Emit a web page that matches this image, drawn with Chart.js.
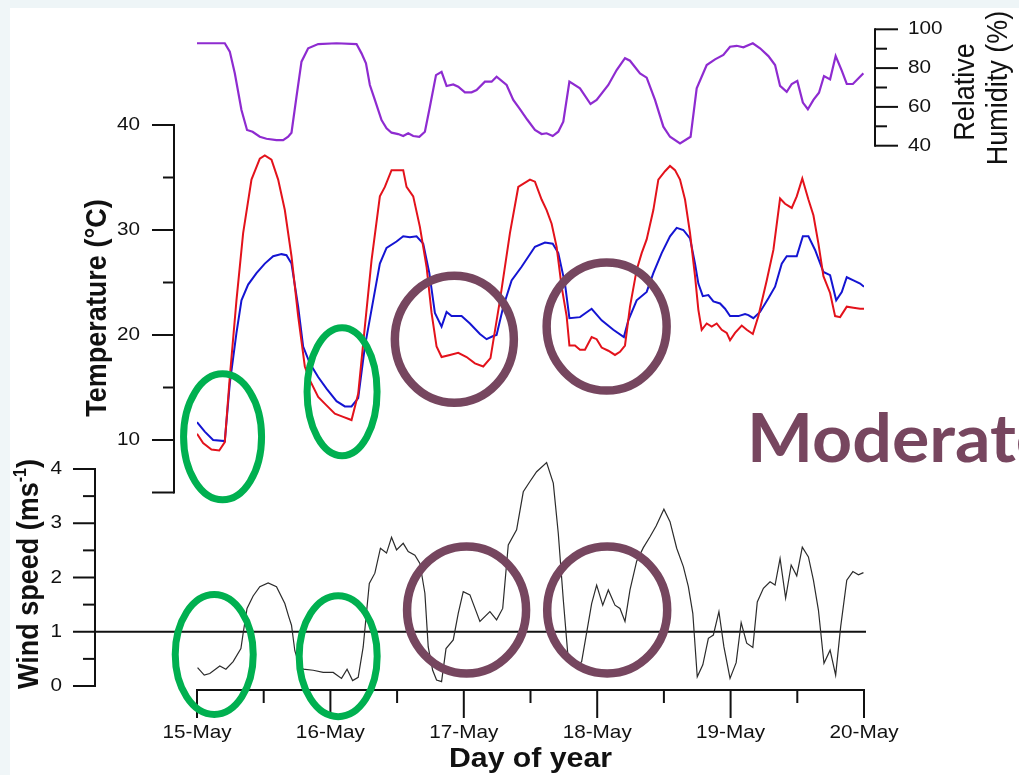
<!DOCTYPE html>
<html><head><meta charset="utf-8">
<script src="https://cdn.jsdelivr.net/npm/chart.js@4.4.1/dist/chart.umd.min.js"></script>
<style>
html,body{margin:0;padding:0;background:#fff;}
#wrap{position:relative;width:1019px;height:775px;overflow:hidden;background:#fff;}
.strip-top{position:absolute;left:0;top:0;width:1019px;height:8px;background:#eef5f7;}
.strip-left{position:absolute;left:0;top:0;width:10px;height:775px;background:#f0f6f8;}
canvas{position:absolute;left:0;top:0;}
</style></head><body>
<div id="wrap"><div class="strip-top"></div><div class="strip-left"></div><canvas id="c" width="1019" height="775"></canvas></div>
<script>
// ---------------- DATA ----------------
const dayLabels = ['15-May','16-May','17-May','18-May','19-May','20-May'];
const dayTicks = [0, 24, 48, 72, 96, 120];          // hours since 15-May 00:00
const halfDayTicks = [12, 36, 60, 84, 108];

const tempTicks = [10, 20, 30, 40];
const tempMinorTicks = [15, 25, 35];
const windTicks = [0, 1, 2, 3, 4];
const windMinorTicks = [0.5, 1.5, 2.5, 3.5];
const humTicks = [40, 60, 80, 100];
const humMinorTicks = [50, 70, 90];
const windThreshold = 1;

// red temperature trace
const redHours = [0,1.1,2.6,4.0,5.0,5.9,7.1,8.3,9.8,11.3,12.2,13.4,14.6,15.8,17.0,18.2,19.4,20.3,21.8,23.3,24.8,26.3,27.8,29.0,30.2,31.4,32.9,33.8,35.0,37.1,37.7,38.9,40.1,41.3,42.2,43.1,44.0,45.5,47.0,48.5,50.0,51.5,52.8,54.5,56.3,57.8,59.9,60.8,62.0,62.9,63.8,64.7,65.6,66.5,67.0,68.0,68.9,69.8,71.0,71.9,72.8,74.0,75.2,76.1,77.0,77.9,79.1,80.0,80.9,82.1,83.0,84.2,85.1,86.0,86.9,87.8,88.7,89.6,90.2,90.8,91.7,92.6,93.5,94.4,95.3,95.9,96.8,98.0,98.9,100.0,101.0,102.5,103.7,104.9,105.8,107.0,107.9,108.9,110.0,110.9,111.8,112.7,113.9,114.8,115.7,116.9,118.1,119.3,120];
const redTemp = [10.6,9.7,9.1,9.0,9.8,16.0,23.3,29.7,34.8,36.8,37.1,36.7,34.8,31.9,27.5,21.8,17.0,15.7,14.1,13.3,12.5,12.2,11.9,14.4,20.8,27.1,33.2,34.1,35.7,35.7,34.1,33.2,30.3,26.5,22.1,18.9,17.9,18.1,18.3,17.9,17.3,17.0,17.8,23.3,29.7,34.1,34.8,34.6,32.9,31.9,30.6,28.4,24.6,21.8,19.0,19.0,18.6,18.6,19.8,19.6,18.8,18.5,18.1,18.4,19.0,22.7,26.2,27.8,29.1,31.9,34.8,35.6,36.1,35.7,34.8,32.9,29.7,25.6,22.4,20.5,21.1,20.8,21.1,20.5,20.2,19.5,20.2,20.9,20.5,20.1,21.8,25.2,28.1,33.0,32.5,32.1,33.2,34.9,32.9,31.4,28.7,25.6,24.0,21.8,21.7,22.7,22.6,22.5,22.5];

// blue temperature trace
const blueHours = [0,1.4,2.9,5.0,5.9,7.1,8.0,9.2,10.7,12.2,13.7,15.2,16.1,17.0,18.2,19.1,20.3,21.8,23.3,25.1,26.6,27.8,29.0,30.2,31.7,32.9,34.1,35.9,37.1,38.3,39.5,40.7,41.8,42.8,44.0,44.9,45.8,47.6,49.1,50.9,52.1,53.3,53.9,55.1,56.6,58.4,60.8,62.6,64.0,65.0,66.2,67.0,68.9,71.0,72.8,74.9,76.8,77.6,79.1,80.9,82.1,83.6,85.1,86.3,87.5,88.7,89.6,90.2,91.0,92.0,92.9,94.1,95.0,95.9,97.4,98.6,99.2,100.1,101.3,102.8,104.0,105.2,106.1,107.9,109.0,110.0,111.2,112.7,113.9,115.0,116.0,116.9,118.1,119.3,120];
const blueTemp = [11.7,10.8,10.0,9.9,15.4,20.2,23.3,24.8,25.9,26.8,27.5,27.7,27.6,26.8,22.7,18.9,17.3,16.0,14.9,13.7,13.2,13.2,14.0,18.9,23.3,26.8,28.3,28.9,29.4,29.3,29.4,28.7,25.9,22.1,20.8,22.2,21.8,21.8,21.1,20.1,19.6,19.9,20.0,22.7,25.2,26.5,28.4,28.8,28.7,27.8,24.9,21.6,21.7,22.5,21.4,20.5,19.8,21.4,23.3,24.1,25.9,27.8,29.4,30.2,30.0,29.2,26.8,24.9,23.7,23.8,23.2,23.0,22.5,21.8,21.8,22.0,21.9,21.6,22.2,23.5,24.6,26.8,27.5,27.5,29.4,29.4,28.1,26.0,25.7,23.3,24.1,25.5,25.2,24.9,24.6];

// relative humidity (%)
const humHours = [0,5.0,5.9,6.8,8.0,9.0,10.0,11.3,12.5,14.3,15.5,16.4,17.0,17.9,18.8,20.0,21.8,25.1,28.7,29.6,30.4,31.1,32.0,33.2,34.1,35.0,36.2,37.1,38.0,38.9,40.0,41.0,41.9,43.0,44.0,44.9,46.1,47.0,48.2,49.4,50.3,51.8,53.0,53.9,55.7,56.9,58.1,59.4,60.8,62.0,62.9,64.0,65.0,65.9,67.0,68.9,70.8,71.9,74.0,75.5,77.0,77.9,79.7,80.9,82.4,83.9,85.1,86.9,88.8,89.9,91.7,93.2,94.7,95.9,97.1,98.3,100.0,101.3,102.8,104.0,104.9,106.1,107.0,108.0,109.0,109.9,110.9,111.9,112.8,113.9,114.9,116.0,116.9,118.0,119.9];
const humidity = [92.8,92.8,88.5,77.3,58.4,48.1,47.2,44.6,43.6,42.9,42.9,44.6,46.7,65.3,83.3,90.2,92.4,92.8,92.4,87.6,82.5,71.3,63.6,53.2,49.0,46.7,46.0,45.0,46.4,45.0,44.6,47.2,60.1,76.4,78.1,70.8,71.6,70.4,67.5,67.5,68.7,73.0,73.0,75.6,71.3,63.6,58.9,53.5,48.1,46.0,46.4,45.0,47.2,52.4,73.0,69.6,61.5,63.6,71.3,79.0,85.1,83.8,77.3,75.1,63.6,49.8,44.6,41.2,44.6,69.6,81.6,84.5,86.8,91.0,91.5,90.7,92.8,90.2,86.2,81.6,70.8,67.8,71.8,73.4,62.2,58.8,63.6,67.3,75.9,74.2,86.2,78.7,71.8,71.8,77.3];

// wind speed (m/s)
const windHours = [0.1,1.3,2.3,4.1,5.2,6.5,7.9,8.3,9.0,10.1,11.3,12.8,14.3,15.8,16.5,17.0,17.6,18.2,19.1,20.9,22.7,24.5,26.0,27.0,28.0,29.0,29.9,31.0,32.0,33.0,34.1,35.0,35.9,37.1,38.0,39.2,40.1,41.0,41.6,42.4,43.1,44.0,44.8,46.1,47.0,47.9,49.1,50.9,52.7,53.9,55.0,56.0,57.5,58.7,59.9,61.1,62.9,64.1,65.0,65.9,66.8,68.3,69.2,71.0,71.9,73.0,74.0,75.2,76.1,77.0,77.9,79.1,80.3,81.5,82.6,84.0,85.1,86.3,87.5,88.4,89.2,90.0,91.0,92.0,92.9,93.9,94.8,95.9,97.0,97.9,98.9,100.0,100.8,101.9,103.1,104.0,104.9,105.9,106.9,107.9,108.9,110.0,110.9,111.8,112.8,113.9,114.9,115.8,116.9,118.0,119.0,119.9];
const windSpeed = [0.34,0.2,0.23,0.37,0.31,0.45,0.69,0.97,1.43,1.66,1.83,1.9,1.83,1.52,1.28,1.12,0.65,0.45,0.31,0.29,0.25,0.25,0.14,0.31,0.1,0.16,0.72,1.89,2.08,2.54,2.45,2.74,2.51,2.63,2.48,2.41,2.26,1.71,0.72,0.29,0.11,0.08,0.69,0.85,1.34,1.74,1.68,1.19,1.37,1.22,1.43,2.6,2.88,3.58,3.77,3.95,4.12,3.74,2.81,1.59,0.48,0.36,0.45,1.52,1.86,1.49,1.77,1.49,1.43,1.19,1.77,2.3,2.55,2.75,2.95,3.26,3.03,2.54,2.2,1.83,1.34,0.17,0.39,0.88,0.94,1.37,0.72,0.14,0.43,1.17,0.79,0.71,1.55,1.8,1.92,1.86,2.35,1.62,2.23,2.03,2.56,2.38,1.95,1.4,0.42,0.66,0.2,1.09,1.95,2.11,2.05,2.09];

// annotation marks (centre in data units, radii in px)
const annotations = [
  {x: 4.6,  axis: 'yT', y: 10.3, rx: 39, ry: 63, color: '#00b050', lw: 7},
  {x: 26.1, axis: 'yT', y: 14.6, rx: 35, ry: 64, color: '#00b050', lw: 7},
  {x: 3.1,  axis: 'yW', y: 0.58, rx: 39, ry: 60, color: '#00b050', lw: 7},
  {x: 25.4, axis: 'yW', y: 0.55, rx: 39, ry: 60.5, color: '#00b050', lw: 7},
  {x: 46.3, axis: 'yT', y: 19.6, rx: 59.5, ry: 63.5, color: '#76465f', lw: 8.5},
  {x: 73.7, axis: 'yT', y: 20.8, rx: 60, ry: 64, color: '#76465f', lw: 8.5},
  {x: 48.5, axis: 'yW', y: 1.40, rx: 59.5, ry: 63.5, color: '#76465f', lw: 8.5},
  {x: 73.8, axis: 'yW', y: 1.40, rx: 60, ry: 63.5, color: '#76465f', lw: 8.5}
];

// ---------------- LAYOUT ----------------
const LAY = {
  plotLeft: 197, plotRight: 864, top: 20, bottom: 700, W: 1019, H: 775,
  temp: {axisX: 174, v1: 40, p1: 125, v2: 10, p2: 440, from: 5, to: 40},
  wind: {axisX: 95, v1: 4, p1: 469, v2: 0, p2: 686, from: 0, to: 4},
  hum:  {axisX: 875, v1: 100, p1: 29.3, v2: 40, p2: 145.7, from: 40, to: 100},
  xAxisY: 690
};
function fitRange(a) {
  const k = (a.p2 - a.p1) / (a.v1 - a.v2);
  return {min: a.v2 - (LAY.bottom - a.p2) / k, max: a.v1 + (a.p1 - LAY.top) / k};
}
const rT = fitRange(LAY.temp), rW = fitRange(LAY.wind), rH = fitRange(LAY.hum);
const SX = 1.12;
const FONT = '"Liberation Sans", Arial, sans-serif';

function pts(xs, ys) { return xs.map((x, i) => ({x: x, y: ys[i]})); }

function txt(ctx, s, x, y, o) {
  ctx.save();
  ctx.translate(x, y);
  ctx.scale(o.sx || SX, 1);
  if (o.rot) ctx.rotate(o.rot);
  ctx.font = o.font;
  ctx.fillStyle = o.color || '#111';
  ctx.textAlign = o.align || 'center';
  ctx.textBaseline = o.base || 'middle';
  ctx.fillText(s, 0, 0);
  ctx.restore();
}
// rotated title made of parts (supports superscript)
function rotTitle(ctx, parts, cx, cy, baseSize, weight) {
  ctx.save();
  ctx.translate(cx, cy);
  ctx.scale(SX, 1);
  ctx.rotate(-Math.PI / 2);
  ctx.fillStyle = '#111';
  ctx.textBaseline = 'middle';
  ctx.textAlign = 'left';
  let total = 0;
  parts.forEach(p => { ctx.font = weight + ' ' + (p.size || baseSize) + 'px ' + FONT; p.w = ctx.measureText(p.t).width; total += p.w; });
  let x = -total / 2;
  parts.forEach(p => {
    ctx.font = weight + ' ' + (p.size || baseSize) + 'px ' + FONT;
    ctx.fillText(p.t, x, -(p.raise || 0));
    x += p.w;
  });
  ctx.restore();
}

function line(ctx, x1, y1, x2, y2) { ctx.beginPath(); ctx.moveTo(x1, y1); ctx.lineTo(x2, y2); ctx.stroke(); }

function drawYAxis(ctx, scale, cfg, ticks, minor, side, labelX, majLen, minLen, endTicks) {
  const x = cfg.axisX;
  const y1 = scale.getPixelForValue(cfg.from), y2 = scale.getPixelForValue(cfg.to);
  line(ctx, x, y1 + 1, x, y2 - 1);
  const dir = side === 'left' ? -1 : 1;
  ticks.concat(endTicks || []).forEach(v => { const y = scale.getPixelForValue(v); line(ctx, x, y, x + dir * majLen, y); });
  minor.forEach(v => { const y = scale.getPixelForValue(v); line(ctx, x, y, x + dir * minLen, y); });
  ticks.forEach(v => {
    const y = scale.getPixelForValue(v);
    txt(ctx, String(v), labelX, y, {font: '18.5px ' + FONT, align: side === 'left' ? 'right' : 'left'});
  });
}

const panelAxes = {
  id: 'panelAxes',
  beforeDatasetsDraw(chart) {
    const ctx = chart.ctx, s = chart.scales;
    ctx.save();
    ctx.strokeStyle = '#111';
    ctx.lineWidth = 2;
    // temperature axis
    drawYAxis(ctx, s.yT, LAY.temp, tempTicks, tempMinorTicks, 'left', 140, 22, 11, [5]);
    // wind axis
    drawYAxis(ctx, s.yW, LAY.wind, windTicks, windMinorTicks, 'left', 62, 22, 12);
    // humidity axis
    drawYAxis(ctx, s.yH, LAY.hum, humTicks, humMinorTicks, 'right', 908, 23, 12);
    // threshold line
    const yth = s.yW.getPixelForValue(windThreshold);
    line(ctx, LAY.wind.axisX, yth, s.x.getPixelForValue(120) + 2, yth);
    // x axis
    const ya = LAY.xAxisY;
    line(ctx, s.x.getPixelForValue(0) - 1, ya, s.x.getPixelForValue(120) + 1, ya);
    dayTicks.forEach((v, i) => {
      const x = s.x.getPixelForValue(v);
      line(ctx, x, ya, x, ya + 28);
      txt(ctx, dayLabels[i], x, 733, {font: '18.5px ' + FONT});
    });
    halfDayTicks.forEach(v => { const x = s.x.getPixelForValue(v); line(ctx, x, ya, x, ya + 13); });
    // titles
    txt(ctx, 'Day of year', (s.x.getPixelForValue(0) + s.x.getPixelForValue(120)) / 2, 760, {font: 'bold 27px ' + FONT});
    rotTitle(ctx, [{t: 'Temperature (°C)'}], 98, 308, 27, 'bold');
    rotTitle(ctx, [{t: 'Wind speed (ms'}, {t: '-1', size: 16, raise: 8}, {t: ')'}], 30, 574, 27, 'bold');
    rotTitle(ctx, [{t: 'Relative'}], 966, 92, 27, 'normal');
    rotTitle(ctx, [{t: 'Humidity (%)'}], 999, 88, 27, 'normal');
    ctx.restore();
  },
  afterDatasetsDraw(chart) {
    const ctx = chart.ctx, s = chart.scales;
    ctx.save();
    annotations.forEach(a => {
      const cx = s.x.getPixelForValue(a.x), cy = s[a.axis].getPixelForValue(a.y);
      ctx.beginPath();
      ctx.ellipse(cx, cy, a.rx, a.ry, 0, 0, Math.PI * 2);
      ctx.lineWidth = a.lw;
      ctx.strokeStyle = a.color;
      ctx.stroke();
    });
    txt(ctx, 'Moderate', 747, 462, {font: 'bold 66px Lato, "Open Sans", sans-serif', color: '#77465f', align: 'left', base: 'alphabetic', sx: 1.06});
    ctx.restore();
  }
};

new Chart(document.getElementById('c'), {
  type: 'line',
  data: {
    datasets: [
      {label: 'Relative humidity', data: pts(humHours, humidity), yAxisID: 'yH', borderColor: '#8e2bd0', borderWidth: 2.2},
      {label: 'Temperature (red)', data: pts(redHours, redTemp), yAxisID: 'yT', borderColor: '#e3121b', borderWidth: 2},
      {label: 'Temperature (blue)', data: pts(blueHours, blueTemp), yAxisID: 'yT', borderColor: '#1414d2', borderWidth: 2},
      {label: 'Wind speed', data: pts(windHours, windSpeed), yAxisID: 'yW', borderColor: '#2b2b2b', borderWidth: 1.2}
    ]
  },
  options: {
    responsive: false,
    animation: false,
    events: [],
    elements: {point: {radius: 0}, line: {tension: 0, fill: false}},
    layout: {padding: {left: LAY.plotLeft, right: LAY.W - LAY.plotRight, top: LAY.top, bottom: LAY.H - LAY.bottom}},
    scales: {
      x: {type: 'linear', min: 0, max: 120, display: false},
      yT: {type: 'linear', min: rT.min, max: rT.max, display: false},
      yW: {type: 'linear', min: rW.min, max: rW.max, display: false},
      yH: {type: 'linear', min: rH.min, max: rH.max, display: false}
    },
    plugins: {legend: {display: false}, tooltip: {enabled: false}}
  },
  plugins: [panelAxes]
});
</script>
</body></html>
